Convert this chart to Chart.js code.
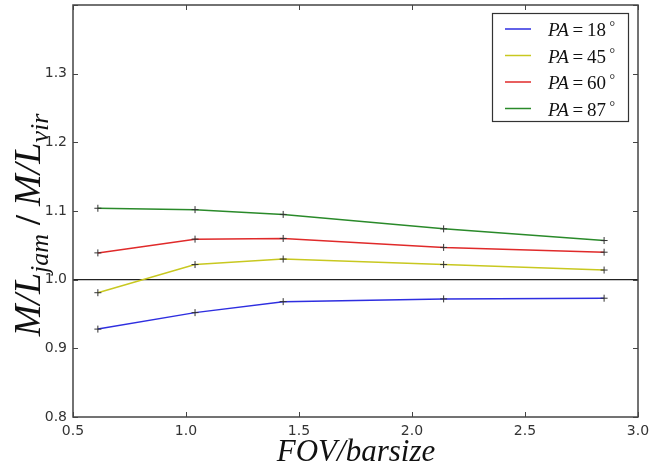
<!DOCTYPE html>
<html>
<head>
<meta charset="utf-8">
<script src="https://cdn.jsdelivr.net/npm/chart.js@4"></script>
<style>
  body { margin: 0; background: #fff; }
  #wrap { width: 649px; height: 468px; position: relative; }
</style>
</head>
<body>
<div id="wrap"><canvas id="ml-chart"></canvas></div>
<script>
// values
const fovRatio = [0.61, 1.04, 1.43, 2.14, 2.85];
const paAngles = ['18', '45', '60', '87'];
const mlPA18 = [0.928, 0.952, 0.968, 0.972, 0.973];
const mlPA45 = [0.981, 1.022, 1.030, 1.022, 1.014];
const mlPA60 = [1.039, 1.059, 1.060, 1.047, 1.040];
const mlPA87 = [1.104, 1.102, 1.095, 1.074, 1.057];
const lineColors = ['#2e2ee0', '#c8c820', '#e02a2a', '#2a8a2a'];

const series = [mlPA18, mlPA45, mlPA60, mlPA87];
const serif = '"Liberation Serif", "DejaVu Serif", serif';

const datasets = series.map((vals, i) => ({
    label: 'PA=' + paAngles[i] + '°',
    data: fovRatio.map((x, j) => ({ x: x, y: vals[j] })),
    borderColor: lineColors[i],
    borderWidth: 1.5,
    tension: 0,
    fill: false,
    pointStyle: 'cross',
    pointRadius: 3.5,
    pointBorderColor: '#333',
    pointBorderWidth: 1
}));

// draws a run of text pieces, subscripts dropped and smaller
function drawPieces(ctx, pieces, x0, cy, centered) {
    let total = 0;
    pieces.forEach(p => { ctx.font = p.font; p.w = ctx.measureText(p.t).width; total += p.w; });
    let x = centered ? x0 - total / 2 : x0;
    ctx.textAlign = 'left';
    ctx.textBaseline = 'alphabetic';
    pieces.forEach(p => {
        ctx.font = p.font;
        ctx.fillText(p.t, x, cy + (p.dy || 0));
        x += p.w;
    });
}

// drop the half-label overhang chart.js keeps around the plot
function noOverhang(s) {
    s.paddingTop = 0; s.paddingBottom = 0; s.paddingLeft = 0; s.paddingRight = 0;
}

const framePlugin = {
    id: 'frame',
    afterDraw(chart) {
        const ctx = chart.ctx;
        const a = chart.chartArea;
        ctx.save();
        ctx.strokeStyle = '#444';
        ctx.lineWidth = 1.5;
        ctx.strokeRect(a.left, a.top, a.right - a.left, a.bottom - a.top);

        // inward tick marks, matplotlib style
        const xs = chart.scales.x, ys = chart.scales.y;
        ctx.lineWidth = 1;
        ctx.beginPath();
        xs.ticks.forEach(t => {
            const px = Math.round(xs.getPixelForValue(t.value)) + 0.5;
            ctx.moveTo(px, a.bottom); ctx.lineTo(px, a.bottom - 5);
            ctx.moveTo(px, a.top); ctx.lineTo(px, a.top + 5);
        });
        ys.ticks.forEach(t => {
            const py = Math.round(ys.getPixelForValue(t.value)) + 0.5;
            ctx.moveTo(a.left, py); ctx.lineTo(a.left + 5, py);
            ctx.moveTo(a.right, py); ctx.lineTo(a.right - 5, py);
        });
        ctx.stroke();

        // legend box
        const bw = 136, bh = 108;
        const bx = a.right - 10 - bw, by = a.top + 8;
        ctx.fillStyle = '#fff';
        ctx.fillRect(bx, by, bw, bh);
        ctx.strokeStyle = '#333';
        ctx.lineWidth = 1.2;
        ctx.strokeRect(bx + 0.5, by + 0.5, bw, bh);
        chart.data.datasets.forEach((ds, i) => {
            const ly = by + 16 + i * 26.5;
            ctx.strokeStyle = ds.borderColor;
            ctx.lineWidth = 1.5;
            ctx.beginPath();
            ctx.moveTo(bx + 13, ly); ctx.lineTo(bx + 39, ly);
            ctx.stroke();
            ctx.fillStyle = '#111';
            const ang = ds.label.split('=')[1].replace('°', '');
            drawPieces(ctx, [
                { t: 'PA', font: 'italic 19px ' + serif },
                { t: '\u2009=\u2009', font: '19px ' + serif },
                { t: ang, font: '19px ' + serif },
                { t: ' °', font: '14px ' + serif, dy: -5 }
            ], bx + 56, ly + 7, false);
        });

        // axis titles
        ctx.fillStyle = '#111';
        drawPieces(ctx, [
            { t: 'FOV/barsize', font: 'italic 31px ' + serif }
        ], 356, 461, true);

        ctx.translate(40, 225);
        ctx.rotate(-Math.PI / 2);
        drawPieces(ctx, [
            { t: 'M/L', font: 'italic 38px ' + serif },
            { t: 'jam', font: 'italic 26px ' + serif, dy: 8 },
            { t: ' / ', font: 'bold 36px ' + serif },
            { t: 'M/L', font: 'italic 38px ' + serif },
            { t: 'vir', font: 'italic 26px ' + serif, dy: 8 }
        ], 0, 0, true);
        ctx.restore();
    }
};

new Chart(document.getElementById('ml-chart'), {
    type: 'line',
    data: { datasets: datasets },
    options: {
        responsive: true,
        maintainAspectRatio: false,
        animation: false,
        layout: { padding: { top: 5, right: 11, left: 0, bottom: 0 } },
        plugins: {
            legend: { display: false },
            tooltip: { enabled: false }
        },
        scales: {
            x: {
                type: 'linear',
                min: 0.5,
                max: 3.0,
                border: { display: false },
                grid: { display: false, drawTicks: false },
                ticks: {
                    stepSize: 0.5,
                    padding: 6,
                    color: '#333',
                    font: { family: '"DejaVu Sans", sans-serif', size: 14 },
                    callback: v => v.toFixed(1)
                },
                afterFit: s => { s.height = 51; noOverhang(s); }
            },
            y: {
                min: 0.8,
                max: 1.4,
                border: { display: false },
                grid: {
                    drawTicks: false,
                    lineWidth: 1.2,
                    color: c => (c.tick && Math.abs(c.tick.value - 1) < 1e-6) ? '#222' : 'rgba(0,0,0,0)'
                },
                ticks: {
                    stepSize: 0.1,
                    padding: 6,
                    color: '#333',
                    font: { family: '"DejaVu Sans", sans-serif', size: 14 },
                    callback: v => (Math.abs(v - 1.4) < 1e-6 ? '' : v.toFixed(1))
                },
                afterFit: s => { s.width = 73; noOverhang(s); }
            }
        }
    },
    plugins: [framePlugin]
});
</script>
</body>
</html>
